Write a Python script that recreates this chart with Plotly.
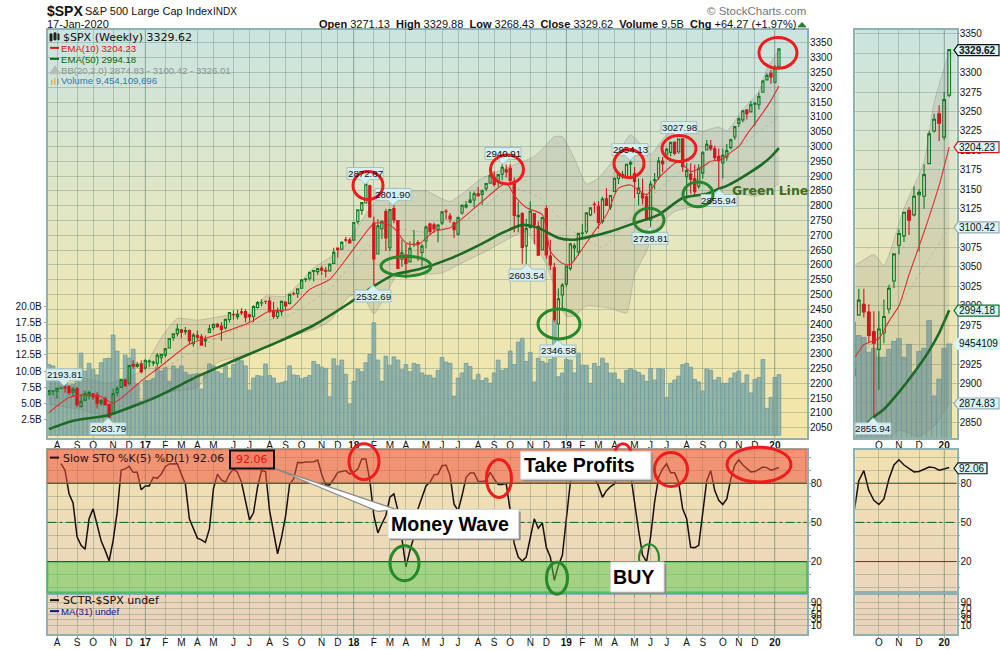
import pandas as pd
import plotly.graph_objects as go

# Weekly candles, 22-Jul-2016 to 17-Jan-2020
open_ = [2163.8,2173,2173,2183.7,2187,2187,2170,2181.6,2120.9,2143,2158,2164,2160,2133,2148,2129,2100.6,2168,2186,2211,2200,2263,2257,2266,
    2251.6,2273,2269,2267.8,2286,2295,2319,2354.9,2367.5,2380.9,2374,2378,2333.5,2362.3,2357,2342.7,2372,2388.5,2399,2393,2387,2415.6,2432,2425,2441,2442,2431,2424.5,2455.9,2471,2477,2478,2444,2425.5,2442,2474,2470,2502.5,2503,2521,2551,2555,2578,2577,2588,2582,2579,2605,2657,2652.9,2685,2684,
    2683.7,2745.6,2784,2809,2867,2741,2636.8,2722,2780,2658,2790,2750,2619,2633.5,2610,2670,2675,2642,2680.8,2738,2735,2720,2742,2781,2765,2742,2704,2775,2796,2811,2819,2840,2838,2857,2876,2896,2881,2906,2921,2926,2882,2763,2773,2664,2726,2773,2730,2650,2790,2630,2590,2400,
    2498,2535,2588,2657,2644,2706,2712,2769,2805,2798,2747,2823,2796,2848,2892,2904,2898,2940,2908,2841,2841,2830,2751,2885,2896,2951,2971,2980,3014,2982,3026,2898,2907,2891,2866,2910,2988,3002,2992,2967,2944,2965,2996,3032,3078,3090,3123,3117,3143,3141,3183,3225,
    3247,3217,3271.13]
high = [2175.6,2177,2182.9,2188.5,2193.81,2193.4,2187.9,2187,2163,2175,2175,2165.9,2170,2148,2154.8,2131,2182.3,2189.9,2213.4,2214,2259.5,2278,2273,2277.5,
    2282,2279,2276,2301,2300,2319,2351,2367,2401,2383,2390,2382,2370,2378,2366,2361,2398,2399,2403.9,2405.8,2415.8,2440.2,2446,2448.3,2453.8,2450,2434,2463.5,2477.6,2484,2478,2490.9,2474.9,2454.8,2480,2472,2500,2508.9,2519.4,2552.5,2555,2575,2583,2588.4,2597,2593,2604.2,2657.7,2651.7,2679.6,2695,2692,
    2743.5,2787,2810.3,2872.87,2870.6,2763.4,2754.4,2747.8,2789.2,2786.6,2801.9,2741,2685,2672,2680,2717.5,2683,2670.9,2732.9,2742.2,2742.2,2736.9,2779.9,2789,2775,2746,2763,2804,2816,2848,2848,2863,2855,2876,2916.5,2916,2906,2940.91,2939,2939.9,2894.8,2813,2778,2756,2815,2775,2747,2760,2800,2685,2607,2520,
    2538,2597,2675,2673,2708,2738,2775,2795,2813,2816,2830,2860,2836,2893,2910,2917,2939,2954.13,2931,2892,2892,2841,2884,2910,2964,2964,2995,3013,3018,3027.98,3027,2944,2943,2939,2940,2985,3022,3022,3002,2993,2993,3008,3027,3066,3098,3120,3127,3154,3150,3182,3225,3247,
    3258,3275,3329.88]
low = [2159,2159,2147.6,2178,2168,2160.4,2157,2119,2119,2139,2145,2144,2114.7,2124,2125,2083.79,2097,2156,2186,2187,2192,2248,2252,2233,
    2245,2254,2258,2257,2267,2288,2319,2344,2358,2354,2364,2332,2323,2344.7,2329,2322.3,2372,2379.8,2387.7,2344,2382,2405,2415.7,2415.6,2431,2405.7,2407.7,2407,2452.5,2459.9,2468,2437.8,2417.4,2417.3,2428,2446.6,2466,2496.7,2488,2520,2542,2547,2544,2566,2566,2557,2577,2605,2624.8,2652.8,2676.1,2673.6,
    2682.4,2736,2769,2808.1,2759,2532.69,2636,2687,2647,2647,2741,2585.9,2593,2553.8,2610,2660,2612.7,2594.6,2655,2701,2708,2676.8,2735,2752,2742,2691,2699,2770,2790,2808,2795,2830,2802,2849,2876,2864,2864,2886,2895,2874,2710.5,2710,2603.54,2603,2722,2670,2631,2649,2621,2583,2408,2346.58,
    2443,2525,2580,2612,2631,2687,2705,2764,2774,2722,2739,2800,2785,2848,2873,2891,2898,2889,2825,2801,2805,2750,2728.81,2855,2887,2914,2965,2966,2970,2975,2914,2822,2840,2834,2856,2891,2988,2985,2952,2855.94,2892,2952,2990,3023,3066,3082,3091,3115,3070,3125,3183,3223,
    3212,3213,3268.43]
close = [2175,2173.6,2182.87,2184.05,2183.87,2169.04,2179.98,2127.81,2139.16,2164.69,2168.27,2153.74,2132.98,2141.16,2126.41,2085.18,2164.45,2181.9,2213.35,2191.95,2259.53,2258.07,2263.79,2238.83,
    2276.98,2274.64,2271.31,2294.69,2297.42,2316.1,2351.16,2367.34,2383.12,2372.6,2378.25,2343.98,2362.72,2355.54,2328.95,2348.69,2384.2,2399.29,2390.9,2381.73,2415.82,2439.07,2431.77,2433.15,2438.3,2423.41,2425.18,2459.27,2472.54,2472.1,2476.83,2441.32,2425.55,2443.05,2476.55,2461.43,2500.23,2502.22,2519.36,2549.33,2553.17,2575.21,2581.07,2587.84,2582.3,2578.85,2602.42,2642.22,2651.5,2675.81,2683.34,2673.61,
    2743.15,2786.24,2810.3,2872.87,2762.13,2619.55,2732.22,2747.3,2691.25,2786.57,2752.01,2588.26,2640.87,2604.47,2656.3,2670.14,2669.91,2663.42,2727.72,2712.97,2721.33,2734.62,2779.03,2779.66,2754.88,2718.37,2759.82,2801.31,2801.83,2818.82,2840.35,2833.28,2850.13,2874.69,2901.52,2871.68,2904.98,2929.67,2913.98,2885.57,2767.13,2767.78,2658.69,2723.06,2781.01,2736.27,2632.56,2760.17,2633.08,2599.95,2416.62,2485.74,
    2531.94,2596.26,2670.71,2664.76,2706.53,2707.88,2775.6,2792.67,2803.69,2743.07,2822.48,2800.71,2834.4,2892.74,2907.41,2905.03,2939.88,2945.64,2881.4,2859.53,2826.06,2752.06,2873.34,2886.98,2950.46,2941.76,2990.41,3013.77,2976.61,3025.86,2932.05,2918.65,2888.68,2847.11,2926.46,2978.71,3007.39,2992.07,2961.79,2952.01,2970.27,2986.2,3022.55,3066.91,3093.08,3120.46,3110.29,3140.98,3145.91,3168.8,3221.22,3240.02,
    3234.85,3265.35,3329.62]
volume_b = [11.0,10.8,9.5,8.4,8.2,7.8,7.9,9.0,12.8,10.0,11.2,10.2,9.4,11.3,11.9,12.0,15.6,13.1,8.5,12.5,12.0,13.4,8.0,5.3,
    8.5,8.5,8.8,10.6,10.0,10.5,8.4,10.8,10.3,10.8,9.8,9.4,9.5,9.6,7.2,9.4,11.1,10.8,9.9,9.6,10.8,8.9,11.0,12.0,11.6,10.8,7.0,8.9,9.3,9.2,11.1,9.3,8.9,8.1,8.2,8.4,10.8,9.4,9.3,8.8,9.0,9.3,11.5,11.0,10.6,10.4,6.0,11.9,10.8,11.7,9.5,4.9,
    8.4,10.3,9.9,11.3,12.6,17.5,11.7,8.4,12.3,10.9,12.2,11.7,10.2,11.0,9.9,11.2,11.0,9.7,9.35,9.35,8.9,10.1,12.1,11.4,11.2,6.1,8.9,9.7,11.2,10.7,8.6,9.5,8.5,8.9,8.1,9.7,11.7,10.1,10.4,13.1,11.0,14.5,15.1,11.5,12.9,8.3,12.0,11.5,11.2,11.8,18.0,9.1,
    9.7,11.8,11.7,9.7,12.8,10.9,10.9,8.1,11.2,10.7,12.0,11.2,9.7,9.7,8.7,8.1,10.1,10.4,10.1,9.8,9.35,8.4,10.4,8.6,10.4,10.3,5.9,8.1,8.6,9.2,11.0,11.2,10.6,8.7,8.3,6.9,10.3,10.1,8.6,9.0,8.1,8.1,8.9,9.7,10.0,8.1,9.4,6.6,8.7,9.0,11.8,4.2,
    5.9,9.0,9.45]

# Indicator lines, read at the weeks listed in the *_idx arrays
ema10_idx = [0,5,9,13,16,23,28,35,42,50,55,60,65,70,74,78,81,84,86,89,92,96,100,108,114,116,119,123,124,125,128,130,132,136,139,142,145,149,152,157,160,163,165,168,170,172,174,177,180,182]
ema10_val = [2101,2152,2160,2155,2133,2208,2259,2332,2365,2405,2444,2450,2517,2551,2618,2691,2740,2740,2725,2674,2668,2713,2725,2814,2876,2835,2794,2770,2724,2646,2605,2601,2635,2713,2769,2859,2870,2837,2893,2949,2915,2932,2950,2958,2980,3000,3040,3095,3155,3204.23]
ema50_idx = [0,6,15,27,37,46,58,66,75,81,86,92,100,108,113,118,122,127,131,140,146,152,158,164,167,169,172,175,178,180,182]
ema50_val = [2045,2073,2093,2155,2223,2276,2345,2396,2472,2528,2567,2584,2621,2672,2708,2735,2725,2691,2685,2713,2741,2769,2826,2840,2857,2867,2889,2914,2942,2965,2994.18]
bb_up_idx = [0,8,15,23,28,32,37,46,50,54,59,66,73,80,84,86,90,94,100,108,116,121,124,126,128,131,134,137,141,145,148,150,154,159,163,167,169,173,177,179,182]
bb_up_val = [2219,2219,2200,2242,2354,2419,2413,2433,2438,2494,2494,2590,2652,2790,2850,2860,2850,2850,2814,2893,2938,2966,3005,3033,3033,2960,2873,2893,2960,3039,3000,2972,3039,3056,3052,3066,3052,3125,3185,3262,3326.01]
bb_lo_idx = [0,8,15,23,30,37,42,50,59,66,70,75,78,81,84,87,92,98,103,109,119,124,129,131,134,140,144,146,149,151,156,163,168,172,176,179,182]
bb_lo_val = [2130,2110,2090,2141,2170,2186,2270,2300,2354,2382,2410,2495,2500,2435,2500,2570,2567,2573,2607,2646,2712,2600,2427,2427,2461,2453,2438,2567,2646,2713,2780,2803,2815,2840,2832,2845,2874.83]
bb_mid_idx = [5,20,30,40,50,60,70,78,85,95,105,115,122,130,138,145,150,158,165,172,178,182]
bb_mid_val = [2170,2155,2260,2340,2400,2430,2520,2640,2720,2710,2760,2860,2830,2720,2660,2760,2830,2920,2940,3000,3060,3100.42]

# Slow stochastic, first three weeks have no value
sto = [None,None,None,95,90,72,65,39,32.4,29.4,52.8,60.4,48.4,36,28.6,20.5,36.2,57.9,90.2,91,93,88.4,88.4,75,
    78,78,84.6,83.8,87,92.7,94.8,95,95,87,79.5,52.8,45,38,36.7,34.7,45,75.7,87,82.5,80.8,87,91,88.4,80.8,65.5,52,57.4,77,89.7,89,59,42.6,26,38.8,55,79.5,83.3,96,95.8,96.3,96.3,96.5,97.8,87,78.7,78.7,83.3,88.4,89,89.7,87,
    88.4,91,98.6,98.6,82,55.3,42,49,55.3,69.3,71.9,59,36,16,28.6,39,60.4,69.3,78,80.8,86.4,87,93.5,94,85.9,64,59,70.6,84.6,87.9,87.9,81.3,81.3,82,88.4,83.3,79,79,80,59,33.7,23.5,20.5,23.5,37.5,52.8,45.6,49.7,31,23.5,5.7,17,
    24.8,54,80.8,93.5,96,96,94.8,89.7,84.6,78,69.3,74.4,77.5,79.5,92,97,98.6,87,64,44,25,19.7,39,65.5,84.6,91,95,88,88,80.8,60.4,52.8,31,30.6,32.4,56.6,82,89.7,74.4,67,63.7,68,83.3,94,98,94,91,88.7,89,91,92.5,92,
    90,91,92.06]

price_ticks = list(range(2050, 3351, 50))
inset_ticks = list(range(2850, 3351, 25))
inset_hidden = [3325, 3100, 2950, 2875]  # these labels sit behind the value tags
vol_ticks = [2.5, 5, 7.5, 10, 12.5, 15, 17.5, 20]
sto_labels = {20: "20", 50: "50", 80: "80"}
sctr_ticks = [90, 70, 50, 30, 10]

weeks = pd.date_range("2016-07-22", periods=len(close), freq="7D")
# a month tick sits on the first week that starts (Monday) inside the month
tick_dates = [d for d in weeks if (d - pd.Timedelta(days=4)).day <= 7]
tick_text = [f"<b>{str(d.year)[2:]}</b>" if d.month == 1 else d.strftime("%b")[0] for d in tick_dates]


def week_pos(i):
    return weeks[0] + pd.Timedelta(days=7 * i)


def dates(idx):
    return [weeks[i] for i in idx]


def vdom(top, bottom):
    return [1 - bottom / 650, 1 - top / 650]


GRID = "rgba(85,125,105,0.33)"
BORDER = "#8fb1b3"
TICKFONT = dict(family="Liberation Sans", size=10, color="#111")

# range of the price axis from pixels: 3350 at y=41, 0.2969 px per point
main_range = [2016.2, 3393.8]
inset_range = [2830.4, 3355]
main_x = [week_pos(-0.37), week_pos(189)]
inset_x = [week_pos(163.3), week_pos(183.5)]

fig = go.Figure()


# page background panels, drawn in the page-pixel axes x/y
def panel_bg(x0, x1, y0, y1, stops):
    fig.add_trace(go.Scatter(x=[x0, x1, x1, x0], y=[y0, y0, y1, y1], fill="toself", mode="none",
                             fillgradient=dict(type="vertical", colorscale=stops),
                             xaxis="x", yaxis="y", hoverinfo="skip"))


main_stops = [[0, "#f5e6a6"], [0.5, "#e5e6c0"], [1, "#cbe4e0"]]
low_stops = [[0, "#ead2bc"], [0.6, "#eedcb8"], [1, "#f2e1ae"]]
for xa, xb in [(47.5, 807), (855.3, 956.7)]:
    panel_bg(xa, xb, 28, 437, main_stops)
    panel_bg(xa, xb, 449, 634, low_stops)


def add_price_traces(xa, yvol, ybb, yprice):
    fig.add_trace(go.Bar(x=weeks, y=volume_b, xaxis=xa, yaxis=yvol,
                         marker=dict(color="rgba(128,168,163,0.8)", line=dict(color="#6f9c9f", width=0.8))))
    fig.add_trace(go.Scatter(x=dates(bb_up_idx), y=bb_up_val, xaxis=xa, yaxis=ybb, mode="lines",
                             line=dict(color="rgba(130,130,130,0.35)", width=1, shape="spline", smoothing=0.5)))
    fig.add_trace(go.Scatter(x=dates(bb_lo_idx), y=bb_lo_val, xaxis=xa, yaxis=ybb, mode="lines", fill="tonextx",
                             fillcolor="rgba(120,120,110,0.17)",
                             line=dict(color="rgba(130,130,130,0.35)", width=1, shape="spline", smoothing=0.5)))
    fig.add_trace(go.Scatter(x=dates(bb_mid_idx), y=bb_mid_val, xaxis=xa, yaxis=ybb, mode="lines",
                             line=dict(color="rgba(130,130,130,0.35)", width=1, dash="dot", shape="spline", smoothing=0.5)))
    fig.add_trace(go.Candlestick(x=weeks, open=open_, high=high, low=low, close=close, xaxis=xa, yaxis=yprice,
                                 whiskerwidth=0,
                                 increasing=dict(line=dict(color="#0f7a24", width=1.1), fillcolor="rgba(0,0,0,0)"),
                                 decreasing=dict(line=dict(color="#d6141c", width=1.1), fillcolor="#d6141c")))
    fig.add_trace(go.Scatter(x=dates(ema10_idx), y=ema10_val, xaxis=xa, yaxis=yprice, mode="lines",
                             line=dict(color="#df2f2f", width=1.1, shape="spline", smoothing=0.6)))
    fig.add_trace(go.Scatter(x=dates(ema50_idx), y=ema50_val, xaxis=xa, yaxis=yprice, mode="lines",
                             line=dict(color="#1d6a24", width=2.6, shape="spline", smoothing=0.6)))


add_price_traces("x2", "y2", "y3", "y4")
add_price_traces("x5", "y7", "y8", "y9")

# Slow STO and the empty SCTR panes
fig.add_trace(go.Scatter(x=weeks, y=sto, xaxis="x3", yaxis="y5", mode="lines", line=dict(color="#1c0d0d", width=1.5)))
fig.add_trace(go.Scatter(x=weeks, y=sto, xaxis="x6", yaxis="y10", mode="lines", line=dict(color="#1c0d0d", width=1.5)))
fig.add_trace(go.Scatter(x=[None], y=[None], xaxis="x4", yaxis="y6"))
fig.add_trace(go.Scatter(x=[None], y=[None], xaxis="x7", yaxis="y11"))


def x_axis(dom, rng, anchor, labels=True):
    return dict(domain=dom, range=rng, anchor=anchor, type="date", tickmode="array", tickvals=tick_dates,
                ticktext=tick_text, showticklabels=labels, ticks="outside", ticklen=2, tickcolor="#9aa",
                tickfont=TICKFONT, ticklabelstandoff=-4, showgrid=True, gridcolor=GRID, gridwidth=1, zeroline=False,
                showline=True, linecolor=BORDER, linewidth=1.5, mirror=True, rangeslider=dict(visible=False))


main_dom = [47.5 / 1000, 807 / 1000]
inset_dom = [855.3 / 1000, 956.7 / 1000]

sto_tickvals = list(range(0, 101, 10))
sto_ticktext = [sto_labels.get(v, "") for v in sto_tickvals]


def sto_axis(dom, anchor):
    return dict(domain=dom, anchor=anchor, side="right", range=[-4.2, 105.8], tickmode="array",
                tickvals=sto_tickvals, ticktext=sto_ticktext, tickfont=TICKFONT, ticks="outside", ticklen=2,
                ticklabelstandoff=-2, tickcolor="#9aa", showgrid=True, gridcolor=GRID, zeroline=False, showline=True,
                linecolor=BORDER, linewidth=1.5, mirror=True)


def sctr_axis(dom, anchor):
    return dict(domain=dom, anchor=anchor, side="right", range=[-21.5, 124.5], tickmode="array", tickvals=sctr_ticks,
                tickfont=TICKFONT, ticks="outside", ticklen=2, ticklabelstandoff=-2, tickcolor="#9aa", showgrid=True,
                gridcolor=GRID, zeroline=False, showline=True, linecolor=BORDER, linewidth=1.5, mirror=True)


def price_axis(rng, anchor, over, ticks, hide=()):
    labels = ["" if v in hide else str(v) for v in ticks]
    return dict(domain=vdom(28, 437), range=rng, anchor=anchor, overlaying=over, side="right", tickmode="array",
                tickvals=ticks, ticktext=labels, tickfont=TICKFONT, ticks="outside", ticklen=2, ticklabelstandoff=-2,
                tickcolor="#9aa", showgrid=True, gridcolor=GRID, zeroline=False)


fig.update_layout(
    width=1000, height=650, margin=dict(l=0, r=0, t=0, b=0), autosize=False,
    paper_bgcolor="white", plot_bgcolor="rgba(0,0,0,0)", showlegend=False, hovermode=False,
    bargap=0.06, boxgap=0.22,
    xaxis=dict(domain=[0, 1], range=[0, 1000], visible=False, fixedrange=True),
    yaxis=dict(domain=[0, 1], range=[650, 0], visible=False, fixedrange=True),
    xaxis2=x_axis(main_dom, main_x, "y2"),
    yaxis2=dict(domain=vdom(28, 437), range=[-0.36, 63.05], anchor="x2", side="left", tickmode="array",
                tickvals=vol_ticks, ticktext=[f"{v:.1f}B" for v in vol_ticks], tickfont=TICKFONT, ticks="outside",
                ticklen=2, tickcolor="#9aa", showgrid=False, zeroline=False, showline=True, linecolor=BORDER,
                linewidth=1.5, mirror=True),
    yaxis3=dict(domain=vdom(28, 437), range=main_range, anchor="x2", overlaying="y2", visible=False),
    yaxis4=price_axis(main_range, "x2", "y2", price_ticks),
    xaxis3=x_axis(main_dom, main_x, "y5", labels=False),
    yaxis5=sto_axis(vdom(449, 593), "x3"),
    xaxis4=x_axis(main_dom, main_x, "y6"),
    yaxis6=sctr_axis(vdom(593, 634), "x4"),
    xaxis5=x_axis(inset_dom, inset_x, "y7"),
    yaxis7=dict(domain=vdom(28, 437), range=[0, 41.1], anchor="x5", side="left", showticklabels=False, ticks="",
                showgrid=False, zeroline=False, showline=True, linecolor=BORDER, linewidth=1.5, mirror=True),
    yaxis8=dict(domain=vdom(28, 437), range=inset_range, anchor="x5", overlaying="y7", visible=False),
    yaxis9=price_axis(inset_range, "x5", "y7", inset_ticks, inset_hidden),
    xaxis6=x_axis(inset_dom, inset_x, "y10", labels=False),
    yaxis10=sto_axis(vdom(449, 593), "x6"),
    xaxis7=x_axis(inset_dom, inset_x, "y11"),
    yaxis11=sctr_axis(vdom(593, 634), "x7"),
)

shapes = []
notes = []


def line_px(x0, y0, x1, y1, color, width=1, dash="solid"):
    shapes.append(dict(type="line", xref="x", yref="y", x0=x0, y0=y0, x1=x1, y1=y1, line=dict(color=color, width=width, dash=dash)))


def rect_px(x0, y0, x1, y1, fill, color="rgba(0,0,0,0)", width=1):
    shapes.append(dict(type="rect", xref="x", yref="y", x0=x0, y0=y0, x1=x1, y1=y1, fillcolor=fill, line=dict(color=color, width=width)))


def poly_px(pts, fill, color, width=1):
    path = "M" + " L".join(f"{x},{y}" for x, y in pts) + " Z"
    shapes.append(dict(type="path", xref="x", yref="y", path=path, fillcolor=fill, line=dict(color=color, width=width)))


def ellipse(cx, cy, rx, ry, color, width=3):
    shapes.append(dict(type="circle", xref="x", yref="y", x0=cx - rx, y0=cy - ry, x1=cx + rx, y1=cy + ry, line=dict(color=color, width=width)))


def text_px(x, y, text, color="#111", size=10, family="Liberation Sans", anchor="left"):
    # annotations keep about 2px of padding on their sides
    pad = {"left": -2, "right": 2, "center": 0}[anchor]
    notes.append(dict(xref="x", yref="y", x=x + pad, y=y, text=text, showarrow=False, xanchor=anchor, yanchor="middle",
                      font=dict(family=family, size=size, color=color)))


# year gridlines are a bit darker
for d in tick_dates:
    if d.month == 1:
        for xr in ("x2", "x5"):
            for y0, y1 in [(28, 437), (449, 634)]:
                shapes.append(dict(type="line", xref=xr, yref="y", x0=d, x1=d, y0=y0, y1=y1, line=dict(color="rgba(90,120,100,0.35)", width=1)))

# STO zones and reference lines
rect_px(47.5, 449, 806, 482.7, "rgba(240,85,65,0.55)", "#ee6a5f", 1.5)
rect_px(47.5, 561.5, 807, 592.7, "rgba(90,205,80,0.5)", "#45c045", 1.5)
for xa, xb in [(47.5, 807), (855.3, 956.7)]:
    line_px(xa, 482.7, xb, 482.7, "#17602a", 1)
    line_px(xa, 522, xb, 522, "#17602a", 1, "dashdot")
    line_px(xa, 561.3, xb, 561.3, "#17602a", 1)
line_px(855.3, 593, 956.7, 593, BORDER, 1.5)


# price callouts with a small pointer at the candle
def price_label(cx, cy, text, up=False, w=36):
    h = 6
    tip = cy - h - 5 if up else cy + h + 5
    edge = cy - h if up else cy + h
    far = cy + h if up else cy - h
    pts = [(cx - w / 2, far), (cx + w / 2, far), (cx + w / 2, edge), (cx + 5, edge), (cx, tip), (cx - 5, edge), (cx - w / 2, edge)]
    poly_px(pts, "#d6f0f1", "#a3c2c4", 1)
    text_px(cx, cy, text, size=9.7, anchor="center")


for cx, cy, t, up in [(365, 172, "2872.87", False), (393, 193, "2801.90", False), (373, 295, "2532.69", True), (64, 374, "2193.81", False),
                      (108, 428, "2083.79", True), (503, 152, "2940.91", False), (630, 148, "2954.13", False), (679, 126, "3027.98", False),
                      (719, 199, "2855.94", True), (650, 237, "2728.81", True), (527, 274, "2603.54", True), (558, 350, "2346.58", True),
                      (873, 428, "2855.94", True)]:
    price_label(cx, cy, t, up)

RED = "#ee1c1c"
GREEN = "#25882a"
for cx, cy, rx, ry in [(368, 184, 15, 14), (507, 168, 16.5, 14.5), (629, 162, 15, 14), (679, 147, 17, 13), (778, 51, 19, 15.5),
                       (364, 461, 15, 18), (499, 478, 12.5, 19), (623, 461, 10, 18), (671, 469, 16.5, 17), (759, 464, 32, 17.5)]:
    ellipse(cx, cy, rx, ry, RED)
for cx, cy, rx, ry in [(406, 265, 25, 10), (649, 219, 15, 12), (698, 193, 15, 12.5), (559, 323, 21, 15),
                       (404.5, 563, 14.5, 17.5), (557, 578, 10.5, 16)]:
    ellipse(cx, cy, rx, ry, GREEN)
ellipse(649, 558, 10, 14, GREEN, 2)


# value tags on the right of the inset
def value_tag(y, text, border, x1=999, bold=False):
    pts = [(954, y), (958, y - 5.5), (x1, y - 5.5), (x1, y + 5.5), (958, y + 5.5)]
    poly_px(pts, "#d6f5f7", border, 1.2)
    text_px(958.5, y, f"<b>{text}</b>" if bold else text, size=10)


value_tag(48.3, "3329.62", "#111", bold=True)
value_tag(145.5, "3204.23", "#e01010")
value_tag(226, "3100.42", "#9ab")
value_tag(309.5, "2994.18", "#17702a")
value_tag(343, "9454109", "#d6f5f7", x1=1000)
value_tag(402.7, "2874.83", "#9ab")
value_tag(467.7, "92.06", "#111", x1=987)

# Money Wave callout
poly_px([(272, 467), (396, 509), (378, 511)], "white", "#8a8a8a", 1.2)
rect_px(230, 450, 274, 468, "rgba(240,120,95,0.6)", "#111", 2)
text_px(252, 459, "92.06", color="#e81010", size=11, family="DejaVu Sans", anchor="center")
for x0, y0, x1, y1, tx, label in [(388, 509, 518.7, 538, 450, "Money Wave"), (520.7, 450.7, 650.7, 478.7, 579.5, "Take Profits"),
                                  (610.7, 561.7, 664, 591.7, 633.5, "BUY")]:
    rect_px(x0 + 2, y0 + 2, x1 + 2, y1 + 2, "#8c8c8c")
    rect_px(x0, y0, x1, y1, "white", "#d8d8d8", 1)
    text_px(tx, (y0 + y1) / 2, f"<b>{label}</b>", color="black", size=19.6, anchor="center")

# header
text_px(47, 9.5, "<b>$SPX</b>", size=14)
text_px(85, 9.5, "S&P 500 Large Cap Index", size=11)
text_px(213, 9.5, "INDX", size=10)
text_px(47, 22.5, "17-Jan-2020", size=11)
text_px(806, 9.5, "© StockCharts.com", color="#777", size=11.5, anchor="right")
text_px(796, 22.5, "<b>Open</b> 3271.13  <b>High</b> 3329.88  <b>Low</b> 3268.43  <b>Close</b> 3329.62  <b>Volume</b> 9.5B  <b>Chg</b> +64.27 (+1.97%)", size=11, anchor="right")
poly_px([(798, 25), (806, 25), (802, 20.5)], "#2d7a3a", "#2d7a3a")

# legends inside the panes
text_px(62.5, 35.3, "$SPX (Weekly) 3329.62", size=11, family="DejaVu Sans")
poly_px([(50, 32), (52, 32), (52, 39), (50, 39)], "#222", "#222")
poly_px([(54, 31), (56, 31), (56, 38), (54, 38)], "#222", "#222")
poly_px([(58, 32), (59, 32), (59, 38), (58, 38)], "#222", "#222")
line_px(50, 46, 59, 46, "#e01010", 2)
text_px(60.5, 46.5, "EMA(10) 3204.23", color="#e01010", size=9.6)
line_px(50, 57, 59, 57, "#0c650f", 2)
text_px(60.5, 57.5, "EMA(50) 2994.18", color="#0c650f", size=9.6)
poly_px([(50, 72), (55, 64), (60, 72)], "#b3bcb5", "#b3bcb5")
text_px(60.5, 68.5, "BB(20,2.0) 2874.83 - 3100.42 - 3326.01", color="#8c9698", size=9.6)
rect_px(51, 78, 52.5, 83, "#e0b84a")
rect_px(54, 76, 55.5, 83, "#e0b84a")
rect_px(57, 77, 58.5, 83, "#7aa0b0")
text_px(60.5, 78.7, "Volume 9,454,109,696", color="#1c7fb5", size=9.6)
text_px(62.5, 457.5, "Slow STO %K(5) %D(1) 92.06", color="#331010", size=11, family="DejaVu Sans")
line_px(50, 457, 59, 457, "#2a0d0d", 2)
text_px(62.5, 600.5, "SCTR-$SPX undef", size=11, family="DejaVu Sans")
line_px(50, 600, 59, 600, "#111", 2)
line_px(50, 611, 59, 611, "#0a1a90", 2)
text_px(60.5, 611.5, "MA(31) undef", color="#0a1a90", size=9.6)
text_px(732, 189, "<b>Green Line</b>", color="#3d6e20", size=12.5, family="DejaVu Sans")

fig.update_layout(shapes=shapes, annotations=notes)
# the default page keeps the browser's 8px body margin
fig.write_html("out.html", config={"displayModeBar": False},
               post_script="document.body.style.margin='0';document.documentElement.style.overflow='hidden';")
